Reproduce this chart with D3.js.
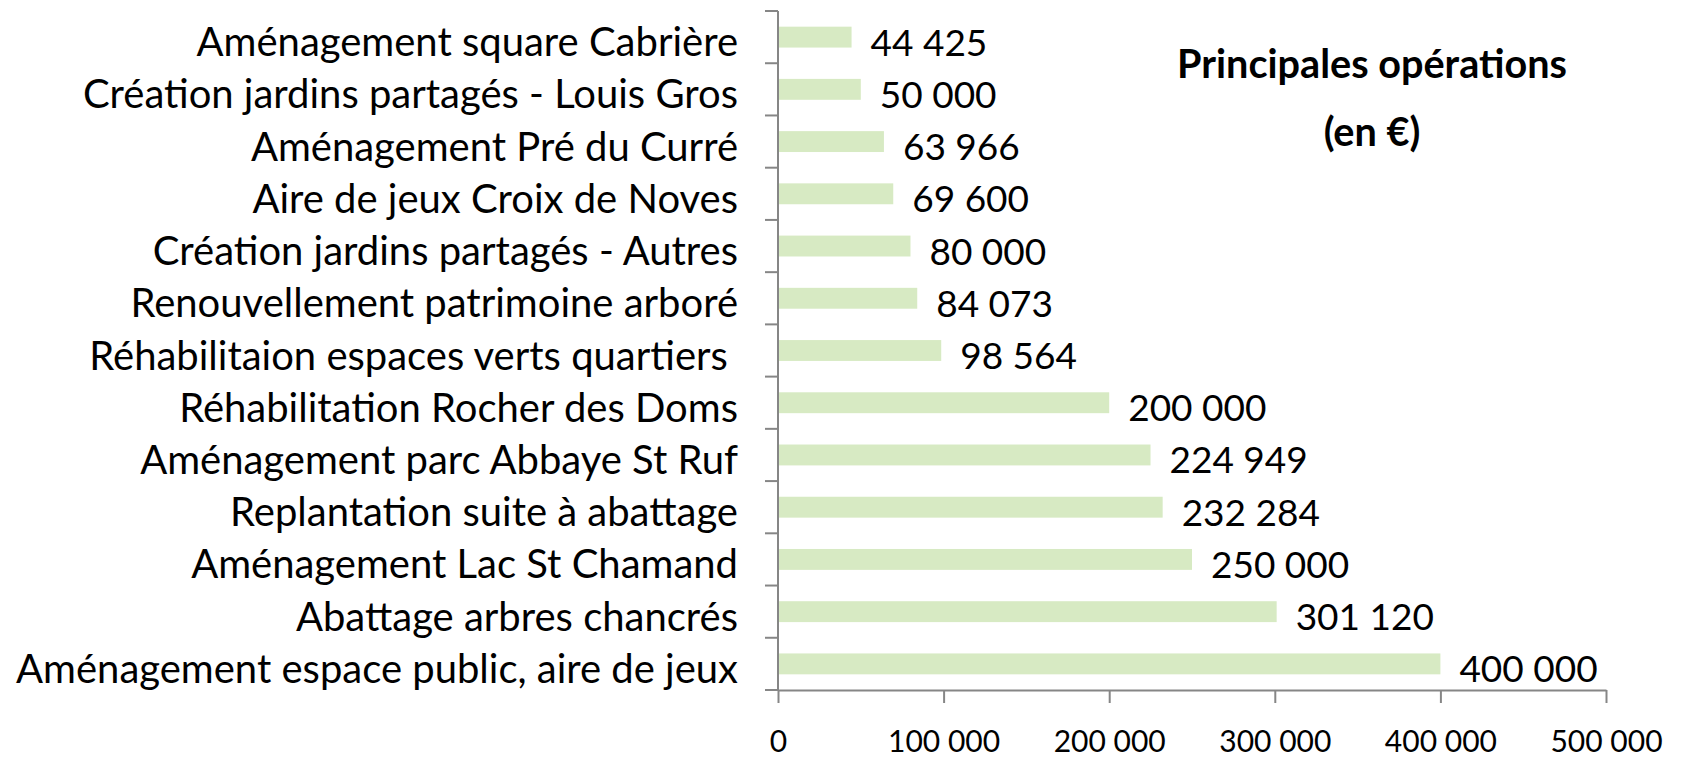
<!DOCTYPE html>
<html>
<head>
<meta charset="utf-8">
<script src="https://cdn.jsdelivr.net/npm/d3@7"></script>
<style>
  body { margin: 0; background: #fff; }
  svg { display: block; font-family: Lato, "Open Sans", sans-serif; }
</style>
</head>
<body>
<svg width="1681" height="760"></svg>
<script>
// Data (top to bottom)
var operations = [
  "Aménagement square Cabrière",
  "Création jardins partagés - Louis Gros",
  "Aménagement Pré du Curré",
  "Aire de jeux Croix de Noves",
  "Création jardins partagés - Autres",
  "Renouvellement patrimoine arboré",
  "Réhabilitaion espaces verts quartiers ",
  "Réhabilitation Rocher des Doms",
  "Aménagement parc Abbaye St Ruf",
  "Replantation suite à abattage",
  "Aménagement Lac St Chamand",
  "Abattage arbres chancrés",
  "Aménagement espace public, aire de jeux"
];
var amounts = [44425, 50000, 63966, 69600, 80000, 84073, 98564, 200000, 224949, 232284, 250000, 301120, 400000];
var xTicks = [0, 100000, 200000, 300000, 400000, 500000];
var titleLines = ["Principales opérations", "(en €)"];

var svg = d3.select("svg");

// plot area (note: "top" is reserved on window, so use plotTop)
var plotLeft = 778, plotRight = 1606, plotTop = 11, plotBottom = 690;

var x = d3.scaleLinear().domain([0, 500000]).range([plotLeft, plotRight]);
var y = d3.scaleBand().domain(operations).range([plotTop, plotBottom])
    .paddingInner(0.6).paddingOuter(0.3);

// numbers with a space as thousands separator
var fmt = function(v) { return d3.format(",")(v).replace(/,/g, " "); };

var axisColor = "#868686";

// bars
svg.append("g").selectAll("rect")
    .data(operations)
  .enter().append("rect")
    .attr("x", x(0))
    .attr("y", function(d) { return y(d); })
    .attr("width", function(d, i) { return x(amounts[i]) - x(0); })
    .attr("height", y.bandwidth())
    .attr("fill", "#d7eac3");

// y axis: line + ticks on band boundaries
var bounds = operations.map(function(d) { return y(d) - y.step() * y.paddingInner() / 2; });
bounds.push(plotBottom);
var yAxis = svg.append("g");
yAxis.append("line")
    .attr("x1", plotLeft).attr("x2", plotLeft)
    .attr("y1", plotTop).attr("y2", plotBottom)
    .attr("stroke", axisColor).attr("stroke-width", 2);
yAxis.selectAll(".tk")
    .data(bounds)
  .enter().append("line")
    .attr("x1", plotLeft - 13).attr("x2", plotLeft)
    .attr("y1", function(d) { return d; }).attr("y2", function(d) { return d; })
    .attr("stroke", axisColor).attr("stroke-width", 2);

// x axis
var xAxis = svg.append("g")
    .attr("transform", "translate(0," + plotBottom + ")")
    .call(d3.axisBottom(x).tickValues(xTicks).tickFormat(fmt).tickSize(13).tickSizeOuter(0).tickPadding(28));
xAxis.select(".domain").attr("stroke", axisColor).attr("stroke-width", 2);
xAxis.selectAll(".tick line").attr("stroke", axisColor).attr("stroke-width", 2);
xAxis.selectAll(".tick text")
    .attr("fill", "#000")
    .style("font-family", "Lato, sans-serif")
    .style("font-size", "30px");

// category labels
var catLabels = svg.append("g").selectAll("text")
    .data(operations)
  .enter().append("text")
    .attr("x", 738)
    .attr("y", function(d) { return y(d) + y.bandwidth() / 2 + 4; })
    .attr("text-anchor", "end")
    .attr("dominant-baseline", "central")
    .style("font-size", "35px")
    .style("white-space", "pre")
    .text(function(d) { return d; });

// scale category font so that the longest label spans like the reference
var longest = d3.max(catLabels.nodes(), function(n) { return n.getComputedTextLength(); });
catLabels.style("font-size", (35 * 722 / longest).toFixed(2) + "px");

// value labels
svg.append("g").selectAll("text")
    .data(amounts)
  .enter().append("text")
    .attr("x", function(d) { return x(d) + 19; })
    .attr("y", function(d, i) { return y(operations[i]) + y.bandwidth() / 2 + 4; })
    .attr("dominant-baseline", "central")
    .style("font-size", "37px")
    .text(fmt);

// title
var title = svg.append("g").selectAll("text")
    .data(titleLines)
  .enter().append("text")
    .attr("x", 1372)
    .attr("y", function(d, i) { return i === 0 ? 78 : 146; })
    .attr("text-anchor", "middle")
    .style("font-weight", "bold")
    .style("font-size", "30px")
    .text(function(d) { return d; });
var tw = title.nodes()[0].getComputedTextLength();
title.style("font-size", (30 * 390 / tw).toFixed(2) + "px");
</script>
</body>
</html>
